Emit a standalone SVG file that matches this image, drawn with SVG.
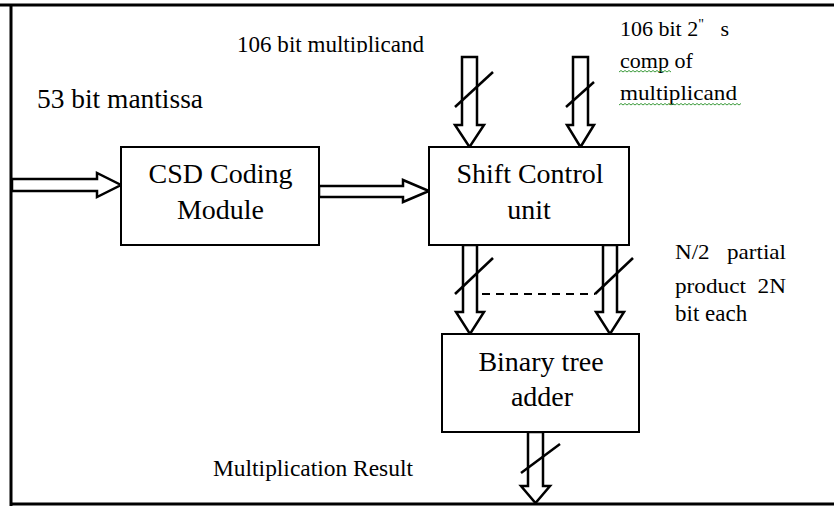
<svg xmlns="http://www.w3.org/2000/svg" width="834" height="506" viewBox="0 0 834 506">
  <style>
    .frame { stroke: #000; stroke-width: 3; fill: none; }
    .box { fill: #fff; stroke: #000; stroke-width: 2; }
    .barrow { fill: #fff; stroke: #000; stroke-width: 2.5; stroke-linejoin: miter; }
    .slash { stroke: #000; stroke-width: 2.5; fill: none; }
    .dash { stroke: #000; stroke-width: 2; stroke-dasharray: 8 6; fill: none; }
    .t { font-family: "Liberation Serif", "Times New Roman", serif; fill: #000; }
    .bt { font-size: 28px; text-anchor: middle; }
    .squig { stroke: #3a9a3a; stroke-width: 1; fill: none; }
  </style>
  <defs>
    <clipPath id="topClip">
      <rect x="0" y="0" width="834" height="52.5"/>
    </clipPath>
  </defs>

  <rect x="0" y="0" width="834" height="506" fill="#fff"/>

  <!-- outer frame: top, left, bottom -->
  <g id="frame">
    <line class="frame" x1="0" y1="5" x2="834" y2="5"/>
    <line class="frame" x1="11" y1="4" x2="11" y2="506"/>
    <line class="frame" x1="10" y1="504" x2="834" y2="504"/>
  </g>

  <!-- block arrows and bus slashes -->
  <g id="connectors">
    <!-- mantissa into CSD coder -->
    <path class="barrow" d="M12,179 H97 V173 L121,185 L97,197 V191 H12 Z"/>
    <!-- CSD coder to shift control -->
    <path class="barrow" d="M319,186 H403 V180 L429,191 L403,202 V197 H319 Z"/>
    <!-- multiplicand inputs -->
    <path class="barrow" d="M462,57 H477 V125 H484 L469.5,147 L455,125 H462 Z"/>
    <line class="slash" x1="455" y1="107" x2="493" y2="72"/>
    <path class="barrow" d="M573,57 H588 V125 H594 L580.5,147 L567,125 H573 Z"/>
    <line class="slash" x1="566" y1="107" x2="594" y2="82"/>
    <!-- partial products -->
    <path class="barrow" d="M463,245 H477 V312 H484 L470,334 L456,312 H463 Z"/>
    <line class="slash" x1="455" y1="294" x2="493" y2="258"/>
    <path class="barrow" d="M603,245 H617 V312 H624 L610,334 L596,312 H603 Z"/>
    <line class="slash" x1="595" y1="294" x2="633" y2="258"/>
    <line class="dash" x1="482" y1="294" x2="595" y2="294"/>
    <!-- result output -->
    <path class="barrow" d="M528,432 H543 V486 H550 L535.5,503 L521,486 H528 Z"/>
    <line class="slash" x1="521" y1="473" x2="560" y2="444"/>
  </g>

  <g id="csd">
    <rect class="box" x="121" y="147" width="198" height="98"/>
    <text class="t bt" x="220.5" y="183">CSD Coding</text>
    <text class="t bt" x="220.5" y="219">Module</text>
  </g>

  <g id="shift">
    <rect class="box" x="429" y="147" width="200" height="98"/>
    <text class="t bt" x="530" y="183">Shift Control</text>
    <text class="t bt" x="529" y="219">unit</text>
  </g>

  <g id="adder">
    <rect class="box" x="442" y="334" width="197" height="98"/>
    <text class="t bt" x="541" y="371">Binary tree</text>
    <text class="t bt" x="542" y="406">adder</text>
  </g>

  <!-- labels -->
  <g id="labels">
    <text class="t" x="37" y="108" font-size="27" textLength="166" lengthAdjust="spacingAndGlyphs">53 bit mantissa</text>
    <text class="t" x="237" y="52" font-size="23" textLength="187" lengthAdjust="spacingAndGlyphs" clip-path="url(#topClip)">106 bit multiplicand</text>
    <text class="t" x="620" y="36" font-size="22" xml:space="preserve">106 bit 2<tspan font-size="14" dy="-7">"</tspan><tspan dy="7">   s</tspan></text>
    <text class="t" x="620" y="68" font-size="22">comp of</text>
    <text class="t" x="620" y="100" font-size="22" textLength="117" lengthAdjust="spacingAndGlyphs">multiplicand</text>
    <path class="squig" d="M619,72 l2,-1.5 l2,1.5 l2,-1.5 l2,1.5 l2,-1.5 l2,1.5 l2,-1.5 l2,1.5 l2,-1.5 l2,1.5 l2,-1.5 l2,1.5 l2,-1.5 l2,1.5 l2,-1.5 l2,1.5 l2,-1.5 l2,1.5 l2,-1.5 l2,1.5 l2,-1.5 l2,1.5 l2,-1.5 l2,1.5 l2,-1.5 l2,1.5"/>
    <path class="squig" d="M619,105 l2,-1.5 l2,1.5 l2,-1.5 l2,1.5 l2,-1.5 l2,1.5 l2,-1.5 l2,1.5 l2,-1.5 l2,1.5 l2,-1.5 l2,1.5 l2,-1.5 l2,1.5 l2,-1.5 l2,1.5 l2,-1.5 l2,1.5 l2,-1.5 l2,1.5 l2,-1.5 l2,1.5 l2,-1.5 l2,1.5 l2,-1.5 l2,1.5 l2,-1.5 l2,1.5 l2,-1.5 l2,1.5 l2,-1.5 l2,1.5 l2,-1.5 l2,1.5 l2,-1.5 l2,1.5 l2,-1.5 l2,1.5 l2,-1.5 l2,1.5 l2,-1.5 l2,1.5 l2,-1.5 l2,1.5 l2,-1.5 l2,1.5 l2,-1.5 l2,1.5 l2,-1.5 l2,1.5 l2,-1.5 l2,1.5 l2,-1.5 l2,1.5 l2,-1.5 l2,1.5 l2,-1.5 l2,1.5 l2,-1.5 l2,1.5 l2,-1.5"/>
    <text class="t" x="675" y="259" font-size="22" textLength="111" lengthAdjust="spacingAndGlyphs" xml:space="preserve">N/2   partial</text>
    <text class="t" x="675" y="293" font-size="22" textLength="111" lengthAdjust="spacingAndGlyphs" xml:space="preserve">product  2N</text>
    <text class="t" x="675" y="321" font-size="23">bit each</text>
    <text class="t" x="213" y="476" font-size="23" textLength="200" lengthAdjust="spacingAndGlyphs">Multiplication Result</text>
  </g>
</svg>
